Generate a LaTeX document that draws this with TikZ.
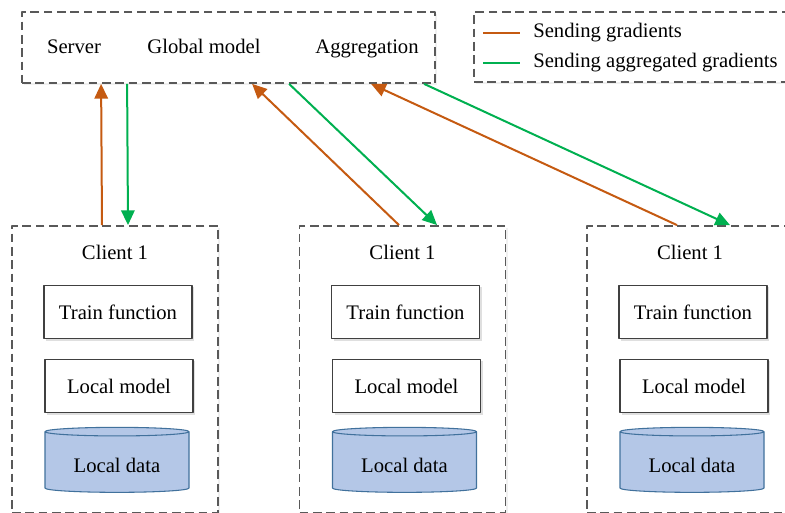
\documentclass[tikz,border=0pt]{standalone}
\usepackage{fontspec}
\setmainfont{Liberation Serif}
\usetikzlibrary{arrows.meta,shapes.geometric,shadows}
\definecolor{gradorange}{HTML}{C55A11}
\definecolor{gradgreen}{HTML}{00B050}
\definecolor{dashgray}{HTML}{595959}
\definecolor{datafill}{HTML}{B4C7E7}
\definecolor{dataline}{HTML}{41719C}
\tikzset{
	dashbox/.style={draw=dashgray,line width=1.35pt,dash pattern=on 6.5pt off 3.5pt,fill=white,
		drop shadow={opacity=0.12,shadow xshift=1.5pt,shadow yshift=-1.5pt}},
	funcbox/.style={draw=black!75,line width=0.9pt,fill=white,minimum width=111pt,minimum height=40pt,
		drop shadow={opacity=0.25,shadow xshift=1.5pt,shadow yshift=-1.5pt}},
	databox/.style={cylinder,shape border rotate=90,aspect=0.09,draw=dataline,fill=datafill,line width=0.8pt,
		minimum width=108pt,minimum height=48.75pt,text height=14pt},
	sendarrow/.style={line width=1.5pt,draw=gradorange,-{Triangle[length=11pt,width=10pt]},fill=gradorange},
	backarrow/.style={line width=1.5pt,draw=gradgreen,-{Triangle[length=11pt,width=10pt]},fill=gradgreen}
}
\begin{document}
\begin{tikzpicture}[line cap=butt,line join=round,x=0.75pt,y=-0.75pt,font=\fontsize{15.5}{18}\selectfont]
	\clip(0,0) rectangle (785,513);
	% server and legend
	\node[dashbox,minimum width=309.75pt,minimum height=53.25pt] (server) at (228.5,47.5) {};
	\node[dashbox,minimum width=247.5pt,minimum height=52.5pt] (legend) at (639,47) {};
	\node[anchor=base] (srvname) at (74,54) {Server};
	\node[anchor=base] (global) at (204,54) {Global model};
	\node[anchor=base] (aggr) at (367,54) {Aggregation};
	\node[anchor=base west,inner sep=0pt] (lgsend) at (533,38) {Sending gradients};
	\node[anchor=base west,inner sep=0pt] (lgback) at (533,68) {Sending aggregated gradients};
	\draw [line width=1.5pt,gradorange] (lgsend.west) ++(-50,0) -- ++(37,0);
	\draw [line width=1.5pt,gradgreen] (lgback.west) ++(-50,0) -- ++(37,0);
	% clients
	\node[dashbox,minimum width=154.5pt,minimum height=215.25pt] (c1) at (115,369.5) {};
	\node[dashbox,minimum width=154.5pt,minimum height=215.25pt] (c2) at (402.5,369.5) {};
	\node[dashbox,minimum width=154.5pt,minimum height=215.25pt] (c3) at (690,369.5) {};
	\node[anchor=base] (c1name) at (115,260) {Client 1};
	\node[anchor=base] (c2name) at (402.5,260) {Client 1};
	\node[anchor=base] (c3name) at (690,260) {Client 1};
	\node[funcbox] (train1) at (118,312) {Train function};
	\node[funcbox] (train2) at (405.5,312) {Train function};
	\node[funcbox] (train3) at (693,312) {Train function};
	\node[funcbox] (model1) at (119,386) {Local model};
	\node[funcbox] (model2) at (406.5,386) {Local model};
	\node[funcbox] (model3) at (694,386) {Local model};
	\node[databox] (data1) at (117,463) {Local data};
	\node[databox] (data2) at (404.5,463) {Local data};
	\node[databox] (data3) at (692,463) {Local data};
	% gradients up, aggregated gradients down
	\draw [sendarrow] ([xshift=-9.75pt]c1.north) -- ([xshift=60pt]server.south west);
	\draw [backarrow] ([xshift=79.5pt]server.south west) -- ([xshift=9.75pt]c1.north);
	\draw [sendarrow] ([xshift=-2.6pt]c2.north) -- ([xshift=173.25pt]server.south west);
	\draw [backarrow] ([xshift=201pt]server.south west) -- ([xshift=25.9pt]c2.north);
	\draw [sendarrow] ([xshift=-9.75pt]c3.north) -- ([xshift=262.5pt]server.south west);
	\draw [backarrow] ([xshift=302.25pt]server.south west) -- ([xshift=30pt]c3.north);
\end{tikzpicture}
\end{document}
